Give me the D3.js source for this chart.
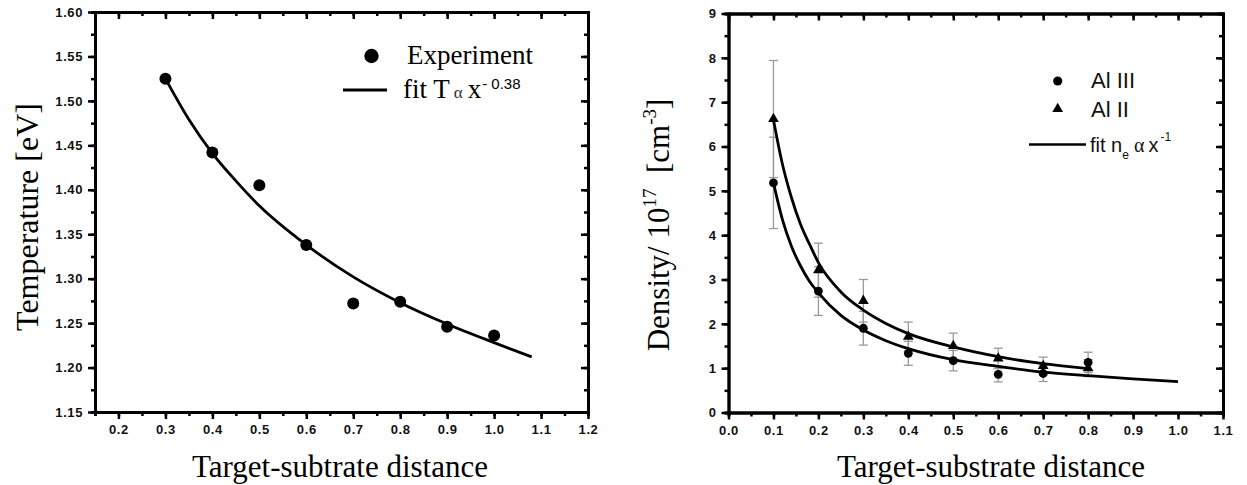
<!DOCTYPE html>
<html>
<head>
<meta charset="utf-8">
<script src="https://cdn.jsdelivr.net/npm/d3@7"></script>
<style>
  html, body { margin: 0; padding: 0; background: #fff; }
  svg { display: block; }
  .tick text { font-family: "Liberation Sans", Arial, sans-serif; font-weight: bold; font-size: 13px; letter-spacing: 0.6px; fill: #111; }
</style>
</head>
<body>
<svg id="chart" width="1247" height="485"></svg>
<script>
// ---------- Left panel data ----------
const tempX = [0.3, 0.4, 0.5, 0.6, 0.7, 0.8, 0.9, 1.0];
const tempY = [1.525, 1.442, 1.405, 1.338, 1.272, 1.274, 1.246, 1.236];
const tempFitX = [0.3, 0.35, 0.4, 0.45, 0.5, 0.6, 0.7, 0.8, 0.9, 1.0, 1.08];
const tempFitY = [1.525, 1.479, 1.441, 1.410, 1.382, 1.338, 1.302, 1.273, 1.249, 1.228, 1.212];
const leftXTicks = [0.2, 0.3, 0.4, 0.5, 0.6, 0.7, 0.8, 0.9, 1.0, 1.1, 1.2];
const leftYTicks = [1.15, 1.20, 1.25, 1.30, 1.35, 1.40, 1.45, 1.50, 1.55, 1.60];

// ---------- Right panel data ----------
const densX = [0.1, 0.2, 0.3, 0.4, 0.5, 0.6, 0.7, 0.8];
const alIII = [5.18, 2.74, 1.90, 1.335, 1.17, 0.86, 0.88, 1.13];
const alIIIerr = [1.03, 0.55, 0.38, 0.27, 0.23, 0.17, 0.18, 0.23];
const alII = [6.62, 3.21, 2.52, 1.71, 1.50, 1.22, 1.05, 1.00];
const alIIerr = [1.32, 0.61, 0.48, 0.33, 0.29, 0.23, 0.20, 0.19];
const fitIIIX = [0.1, 0.12, 0.14, 0.16, 0.18, 0.2, 0.25, 0.3, 0.35, 0.4, 0.5, 0.6, 0.7, 0.8, 0.9, 1.0];
const fitIIIY = [5.18, 4.35, 3.75, 3.31, 2.96, 2.70, 2.19, 1.86, 1.62, 1.44, 1.19, 1.04, 0.91, 0.83, 0.76, 0.695];
const fitIIX = [0.1, 0.12, 0.14, 0.16, 0.18, 0.2, 0.25, 0.3, 0.35, 0.4, 0.5, 0.6, 0.7, 0.8];
const fitIIY = [6.60, 5.60, 4.85, 4.25, 3.80, 3.38, 2.72, 2.31, 2.01, 1.78, 1.48, 1.26, 1.10, 0.99];
const rightXTicks = [0.0, 0.1, 0.2, 0.3, 0.4, 0.5, 0.6, 0.7, 0.8, 0.9, 1.0, 1.1];
const rightYTicks = [0, 1, 2, 3, 4, 5, 6, 7, 8, 9];

const svg = d3.select("#chart");
const serif = '"Liberation Serif", "Times New Roman", serif';
const sans = '"Liberation Sans", Arial, sans-serif';

function range(a, b, step) {
  const out = [];
  const n = Math.round((b - a) / step);
  for (let i = 0; i <= n; i++) out.push(+(a + i * step).toFixed(6));
  return out;
}

function drawFrame(g, x, y, xTicks, yTicks, xMinor, yMinor, xFmt, yFmt) {
  const [x0, x1] = x.range();
  const [y0, y1] = y.range(); // y0 bottom, y1 top
  const SW = 2.9;
  const style = sel => {
    sel.select(".domain").attr("stroke", "#000").attr("stroke-width", SW);
    sel.selectAll(".tick line").attr("stroke", "#000").attr("stroke-width", 2.5);
  };
  // minor ticks
  g.append("g").attr("transform", `translate(0,${y0})`)
    .call(d3.axisBottom(x).tickValues(xMinor).tickSize(4).tickFormat(""))
    .call(style);
  g.append("g").attr("transform", `translate(0,${y1})`)
    .call(d3.axisTop(x).tickValues(xMinor).tickSize(-4).tickFormat(""))
    .call(style);
  g.append("g").attr("transform", `translate(${x0},0)`)
    .call(d3.axisLeft(y).tickValues(yMinor).tickSize(4).tickFormat(""))
    .call(style);
  g.append("g").attr("transform", `translate(${x1},0)`)
    .call(d3.axisRight(y).tickValues(yMinor).tickSize(-4).tickFormat(""))
    .call(style);
  // major ticks
  g.append("g").attr("transform", `translate(0,${y0})`)
    .call(d3.axisBottom(x).tickValues(xTicks).tickSizeInner(7).tickSizeOuter(0).tickPadding(6).tickFormat(xFmt))
    .call(style);
  g.append("g").attr("transform", `translate(0,${y1})`)
    .call(d3.axisTop(x).tickValues(xTicks).tickSizeInner(-7).tickSizeOuter(0).tickFormat(""))
    .call(style);
  g.append("g").attr("transform", `translate(${x0},0)`)
    .call(d3.axisLeft(y).tickValues(yTicks).tickSizeInner(7).tickSizeOuter(0).tickPadding(5).tickFormat(yFmt))
    .call(style);
  g.append("g").attr("transform", `translate(${x1},0)`)
    .call(d3.axisRight(y).tickValues(yTicks).tickSizeInner(-7).tickSizeOuter(0).tickFormat(""))
    .call(style);
  g.selectAll(".tick text").attr("font-family", null).attr("font-size", null);
}

// ================= LEFT PANEL =================
const xL = d3.scaleLinear().domain([0.15, 1.2]).range([95, 588]);
const yL = d3.scaleLinear().domain([1.15, 1.60]).range([412, 12]);
const gL = svg.append("g");

gL.append("path")
  .datum(tempFitX.map((v, i) => [v, tempFitY[i]]))
  .attr("fill", "none").attr("stroke", "#000").attr("stroke-width", 2.8)
  .attr("d", d3.line().x(d => xL(d[0])).y(d => yL(d[1])).curve(d3.curveMonotoneX));

gL.selectAll("circle.pt").data(tempX.map((v, i) => [v, tempY[i]])).join("circle")
  .attr("class", "pt").attr("cx", d => xL(d[0])).attr("cy", d => yL(d[1])).attr("r", 6).attr("fill", "#000");

drawFrame(gL, xL, yL, leftXTicks, leftYTicks,
  range(0.15, 1.2, 0.05), range(1.15, 1.60, 0.025),
  d3.format(".1f"), d3.format(".2f"));

// legend left
gL.append("circle").attr("cx", 371.5).attr("cy", 56).attr("r", 7.2).attr("fill", "#000");
gL.append("text").attr("x", 407).attr("y", 64).attr("font-family", serif).attr("font-size", 27).text("Experiment");
gL.append("line").attr("x1", 343).attr("x2", 387).attr("y1", 90).attr("y2", 90).attr("stroke", "#000").attr("stroke-width", 3);
const legT = gL.append("text").attr("x", 403).attr("y", 98).attr("font-family", serif).attr("font-size", 27);
legT.append("tspan").text("fit T");
legT.append("tspan").attr("font-size", 17).attr("fill", "#333").attr("dx", 4).text("\u03b1");
legT.append("tspan").attr("dx", 5).text("x");
legT.append("tspan").attr("font-family", sans).attr("font-size", 15).attr("dy", -9).attr("dx", 1).text("- 0.38");

// axis titles left
svg.append("text").attr("x", 340).attr("y", 477).attr("text-anchor", "middle")
  .attr("font-family", serif).attr("font-size", 31).text("Target-subtrate distance");
svg.append("text").attr("transform", "translate(38,217) rotate(-90)").attr("text-anchor", "middle")
  .attr("font-family", serif).attr("font-size", 32).text("Temperature [eV]");

// ================= RIGHT PANEL =================
const xR = d3.scaleLinear().domain([0, 1.1]).range([728.5, 1223]);
const yR = d3.scaleLinear().domain([0, 9]).range([412.5, 13.5]);
const gR = svg.append("g");

// error bars
function errBars(vals, errs) {
  const d = densX.map((v, i) => ({ x: v, y: vals[i], e: errs[i] }));
  const eb = gR.append("g").attr("stroke", "#9a9a9a").attr("stroke-width", 1.3);
  eb.selectAll("line.v").data(d).join("line").attr("class", "v")
    .attr("x1", p => xR(p.x)).attr("x2", p => xR(p.x))
    .attr("y1", p => yR(p.y - p.e)).attr("y2", p => yR(p.y + p.e));
  eb.selectAll("line.t").data(d).join("line").attr("class", "t")
    .attr("x1", p => xR(p.x) - 4.5).attr("x2", p => xR(p.x) + 4.5)
    .attr("y1", p => yR(p.y + p.e)).attr("y2", p => yR(p.y + p.e));
  eb.selectAll("line.b").data(d).join("line").attr("class", "b")
    .attr("x1", p => xR(p.x) - 4.5).attr("x2", p => xR(p.x) + 4.5)
    .attr("y1", p => yR(p.y - p.e)).attr("y2", p => yR(p.y - p.e));
}
errBars(alII, alIIerr);
errBars(alIII, alIIIerr);

const lineR = d3.line().x(d => xR(d[0])).y(d => yR(d[1])).curve(d3.curveMonotoneX);
gR.append("path").datum(fitIIIX.map((v, i) => [v, fitIIIY[i]]))
  .attr("fill", "none").attr("stroke", "#000").attr("stroke-width", 2.8).attr("d", lineR);
gR.append("path").datum(fitIIX.map((v, i) => [v, fitIIY[i]]))
  .attr("fill", "none").attr("stroke", "#000").attr("stroke-width", 2.8).attr("d", lineR);

gR.selectAll("path.tri").data(densX.map((v, i) => [v, alII[i]])).join("path")
  .attr("class", "tri").attr("d", d3.symbol(d3.symbolTriangle, 50))
  .attr("transform", d => `translate(${xR(d[0])},${yR(d[1])})`).attr("fill", "#000");
gR.selectAll("circle.pt").data(densX.map((v, i) => [v, alIII[i]])).join("circle")
  .attr("class", "pt").attr("cx", d => xR(d[0])).attr("cy", d => yR(d[1])).attr("r", 4.4).attr("fill", "#000");

drawFrame(gR, xR, yR, rightXTicks, rightYTicks,
  range(0, 1.1, 0.05), range(0, 9, 0.5),
  d3.format(".1f"), d3.format("d"));

// legend right
gR.append("circle").attr("cx", 1057.7).attr("cy", 81).attr("r", 4.6).attr("fill", "#000");
gR.append("text").attr("x", 1091).attr("y", 88).attr("font-family", sans).attr("font-size", 22).attr("fill", "#111").text("Al III");
gR.append("path").attr("d", d3.symbol(d3.symbolTriangle, 50)).attr("transform", "translate(1057.7,109)").attr("fill", "#000");
gR.append("text").attr("x", 1091).attr("y", 117).attr("font-family", sans).attr("font-size", 22).attr("fill", "#111").text("Al II");
gR.append("line").attr("x1", 1029).attr("x2", 1086).attr("y1", 144.5).attr("y2", 144.5).attr("stroke", "#000").attr("stroke-width", 2.6);
const legR = gR.append("text").attr("x", 1090).attr("y", 152).attr("font-family", sans).attr("font-size", 20).attr("fill", "#111");
legR.append("tspan").text("fit n");
legR.append("tspan").attr("font-size", 12).attr("dy", 7).text("e");
legR.append("tspan").attr("font-family", serif).attr("font-size", 20).attr("dy", -7).attr("dx", 5).text("\u03b1");
legR.append("tspan").attr("dx", 4).text("x");
legR.append("tspan").attr("font-size", 12).attr("dy", -11).attr("dx", 2).text("-1");

// axis titles right
svg.append("text").attr("x", 991).attr("y", 477).attr("text-anchor", "middle")
  .attr("font-family", serif).attr("font-size", 31).text("Target-substrate distance");
const yt = svg.append("text").attr("transform", "translate(669,225) rotate(-90)").attr("text-anchor", "middle")
  .attr("font-family", serif).attr("font-size", 31);
yt.append("tspan").text("Density/ 10");
yt.append("tspan").attr("font-size", 19).attr("dy", -13).text("17");
yt.append("tspan").attr("dy", 13).text("\u00a0 [cm");
yt.append("tspan").attr("font-size", 19).attr("dy", -13).text("-3");
yt.append("tspan").attr("dy", 13).text("]");
</script>
</body>
</html>
